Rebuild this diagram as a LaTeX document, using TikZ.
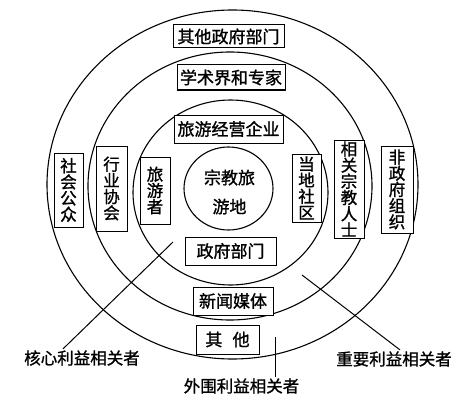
\documentclass[tikz,border=0pt]{standalone}
\usepackage{fontspec}
\newfontfamily\cjk[FakeBold=1.2]{Noto Sans CJK SC}
\usetikzlibrary{positioning}
\begin{document}
\begin{tikzpicture}[x=1pt, y=-1pt, line width=1pt,
    font=\cjk\fontsize{16.5}{16.2}\selectfont,
    ring/.style={line width=1.1pt},
    rbox/.style={draw, fill=white, inner sep=0pt, align=center},
    label/.style={font=\cjk\fontsize{16.5}{18}\selectfont, inner sep=1pt}]
  \useasboundingbox (0,0) rectangle (474,404);
  % rings
  \draw[ring] (232.5,184.5) ellipse [x radius=185.5pt, y radius=174.5pt];
  \draw[ring] (230,186) ellipse [x radius=142pt, y radius=134pt];
  \draw[ring] (230.5,192.5) ellipse [x radius=97.5pt, y radius=92.5pt];
  \draw[ring] (228.5,188.5) ellipse [x radius=44.5pt, y radius=41.5pt];
  \node[align=center, font=\cjk\fontsize{17}{29}\selectfont] (site) at (229.5,192) {宗教旅\\游地};
  % horizontal boxes
  \foreach \n/\x/\y/\w/\h/\t in {ogov/228.5/36.5/111/23/其他政府部门,
      acad/231/77.5/108/25/学术界和专家, firm/228.5/129/109/28/旅游经营企业,
      gov/230.5/251/91/28/政府部门, media/233/301/80/28/新闻媒体,
      other/227.5/339.5/63/29/其\hspace{0.6em}他}{
    \node[rbox, minimum width=\w pt, minimum height=\h pt,
      font=\cjk\fontsize{17}{18}\selectfont] (\n) at (\x,\y) {\t};
  }
  % vertical boxes
  \foreach \n/\x/\y/\w/\h/\t in {pub/68.5/190/29/74/社\\会\\公\\众,
      assoc/111.5/188.5/31/85/行\\业\\协\\会, tour/155/190.5/30/67/旅\\游\\者,
      comm/306.5/188/29/68/当\\地\\社\\区, rel/349/189/30/98/相\\关\\宗\\教\\人\\士,
      ngo/397/189.5/32/87/非\\政\\府\\组\\织}{
    \node[rbox, minimum width=\w pt, minimum height=\h pt] (\n) at (\x,\y) {\t};
  }
  % stakeholder labels
  \node[label] (core) at (82,358) {核心利益相关者};
  \node[label] (imp) at (394,359) {重要利益相关者};
  \node[label] (outer) at (241.5,386) {外围利益相关者};
  \coordinate (coreTip) at (173,242);
  \coordinate (impTip) at (302,275);
  \coordinate (outerTip) at (275,337);
  \draw (coreTip) -- ([xshift=-19pt]core.north);
  \draw (impTip) -- ([xshift=6pt]imp.north);
  \draw (outerTip) -- ([xshift=33.5pt]outer.north);
\end{tikzpicture}
\end{document}
